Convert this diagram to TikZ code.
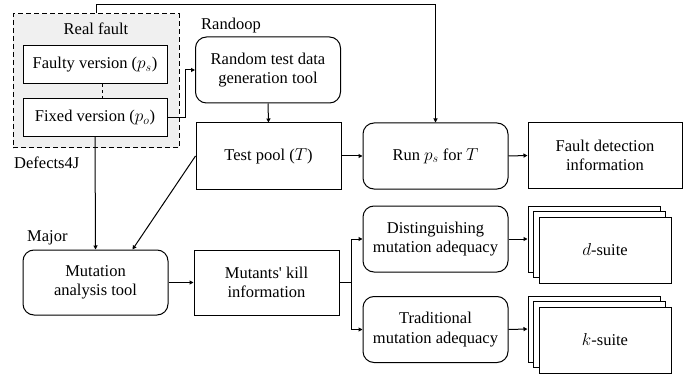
\documentclass[tikz,border=0pt]{standalone}
\usepackage{fontspec}
\setmainfont{Liberation Serif}
\newfontfamily\timesfont{Liberation Serif}
\usetikzlibrary{arrows.meta}

\tikzset{
  box/.style={draw, line width=1pt, fill=white, align=center, inner sep=2pt,
    minimum width=145pt, minimum height=66pt, font=\timesfont\fontsize{16.5}{19.5}\selectfont},
  rbox/.style={box, rounded corners=11pt},
  vbox/.style={box, minimum width=144pt, minimum height=38pt},
  sbox/.style={box, minimum width=132pt},
  group/.style={draw, line width=1pt, dash pattern=on 5pt off 3pt, fill=black!6,
    minimum width=166pt, minimum height=134pt},
  lbl/.style={inner sep=0pt, font=\timesfont\fontsize{16.5}{19.5}\selectfont},
  arr/.style={line width=1pt, -{Triangle[length=4pt,width=4pt]}},
  ln/.style={line width=1pt}
}

\begin{document}
\begin{tikzpicture}[x=1pt, y=-1pt]
    \useasboundingbox (0,0) rectangle (688,377);
    % real fault (Defects4J)
    \node[group] (real) at (96,81) {};
    \node[lbl] (reallbl) at (96,29) {Real fault};
    \node[vbox] (faulty) at (95,65) {Faulty version ($p_s$)};
    \node[vbox] (fixed) at (95,117.5) {Fixed version ($p_o$)};
    \node[lbl, anchor=west] (defects) at (14,163) {Defects4J};
    \draw[ln, dashed] ([xshift=7pt]faulty.south) -- ([xshift=7pt]fixed.north);
    % tools and outputs
    \node[lbl, anchor=west] (randooplbl) at (201,26) {Randoop};
    \node[rbox] (random) at (268,70) {Random test data\\generation tool};
    \node[box] (pool) at (268.5,156) {Test pool ($T$)};
    \node[rbox] (run) at (435.5,156) {Run $p_s$ for $T$};
    \node[box, minimum width=154pt, minimum height=65pt] (fdi) at (605,155.5) {Fault detection\\information};
    \node[lbl, anchor=west] (majorlbl) at (27,238) {Major};
    \node[rbox, minimum height=65pt] (mat) at (95.5,282.5) {Mutation\\analysis tool};
    \node[box, minimum height=65pt] (kill) at (266.5,282.5) {Mutants' kill\\information};
    \node[rbox] (dist) at (435.5,239) {Distinguishing\\mutation adequacy};
    \node[rbox] (trad) at (435.5,329.5) {Traditional\\mutation adequacy};
    % stacked suites
    \node[sbox] (dback) at (594,239) {};
    \node[sbox] (dmid) at (599.5,244.5) {};
    \node[sbox] (dsuite) at (605,250) {$d$-suite};
    \node[sbox] (kback) at (594,329) {};
    \node[sbox] (kmid) at (599.5,334.5) {};
    \node[sbox] (ksuite) at (605,340) {$k$-suite};
    % connectors
    \coordinate (top) at (run.north |- 0,5);
    \draw[arr] (real.north) |- (top) -- (run.north);
    \draw[arr] (fixed.east) -- ++(18,0) |- (random.west);
    \draw[arr] (random.south) -- (pool.north);
    \draw[arr] (pool.east) -- (run.west);
    \draw[arr] (run.east) -- (fdi.west);
    \draw[arr] (fixed.south) -- (mat.north);
    \draw[arr] (pool.west) -- ([xshift=37pt]mat.north);
    \draw[arr] (mat.east) -- (kill.west);
    \draw[ln] (kill.east) -- ++(12,0) coordinate (branch);
    \draw[arr] (branch) |- (dist.west);
    \draw[arr] (branch) |- (trad.west);
    \draw[arr] (dist.east) -- (dback.west);
    \draw[arr] (trad.east) -- (kback.west);
\end{tikzpicture}
\end{document}
